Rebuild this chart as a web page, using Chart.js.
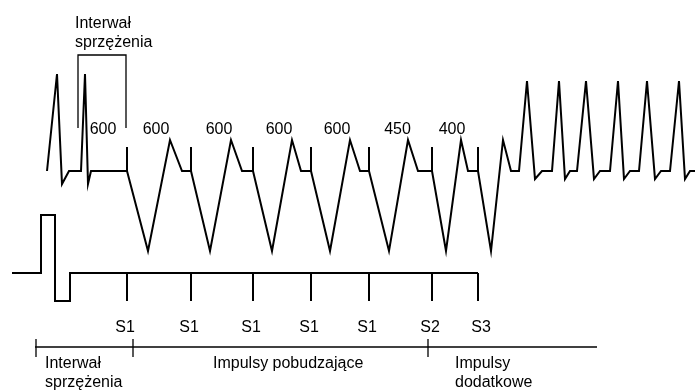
<!DOCTYPE html>
<html>
<head>
<meta charset="utf-8">
<script src="https://cdn.jsdelivr.net/npm/chart.js@4.4.1/dist/chart.umd.min.js"></script>
<style>
  html, body { margin: 0; padding: 0; background: #fff; }
  #wrap { width: 695px; height: 390px; position: relative; }
</style>
</head>
<body>
<div id="wrap"><canvas id="grafico"></canvas></div>
<script>
// ECG trace (time units, amplitude relative to baseline)
var ecgTime = [47, 57, 62, 69, 81, 85, 88, 91, 127, 148, 170, 182, 191, 210, 231, 242, 253, 272, 292, 301,
    311, 330, 350, 360, 369, 389, 408, 418, 432, 446, 461, 468, 478, 491, 503, 511, 519, 527, 535, 542,
    552, 559, 565, 570, 577, 586, 594, 600, 610, 618, 624, 630, 639, 647, 655, 661, 670, 679, 685, 690, 695];
var ecgAmp = [0, 97, -13, 0, 0, 97, -13, 0, 0, -80, 31, 0, 0, -80, 31, 0, 0, -80, 31, 0,
    0, -80, 31, 0, 0, -80, 31, 0, 0, -80, 31, 0, 0, -80, 31, 0, 0, 90, -8, 0,
    0, 90, -8, 0, 0, 90, -8, 0, 0, 90, -8, 0, 0, 90, -8, 0, 0, 90, -8, 0, 0];

// stimuli
var stimTimes = [127, 191, 253, 311, 369, 432, 478];
var stimNames = ['S1', 'S1', 'S1', 'S1', 'S1', 'S2', 'S3'];
var intervalLabels = ['600', '600', '600', '600', '600', '450', '400'];
var lastIntrinsicBeat = 85;
var spikeAmp = 24;

// stimulation channel
var stimChanTime = [12, 41, 41, 55, 55, 70, 70, 478];
var stimChanAmp = [0, 0, 58, 58, -28, -28, 0, 0];
var stimTickAmp = -28;

// phases of the protocol
var phaseBreaks = [36, 133, 428];
var phaseEnd = 597;
var phaseNames = [['Interwał', 'sprzężenia'], ['Impulsy pobudzające'], ['Impulsy', 'dodatkowe']];

// vertical offsets of each row
var OFF_ECG = 0, OFF_STIM = -102, OFF_PHASE = -176;

function pts(xs, ys, off) {
    return xs.map(function (x, i) { return { x: x, y: ys[i] + off }; });
}

function vSegments(xs, y0, y1) {
    var out = [];
    xs.forEach(function (x) {
        out.push({ x: x, y: y0 }, { x: x, y: y1 }, { x: x, y: null });
    });
    return out;
}

var FONT = '16px "Liberation Sans", Arial, sans-serif';

var textos = [];
// interval values above the ECG
stimTimes.forEach(function (t, i) {
    var prev = i === 0 ? lastIntrinsicBeat : stimTimes[i - 1];
    textos.push({ t: intervalLabels[i], x: (prev + t) / 2 - 3, y: 37, align: 'center' });
});
// stimulus names
stimTimes.forEach(function (t, i) {
    textos.push({ t: stimNames[i], x: t - 2 + (i === stimTimes.length - 1 ? 5 : 0), y: OFF_PHASE + 15, align: 'center' });
});
// coupling bracket caption
textos.push({ t: 'Interwał', x: 75, y: 143, align: 'left' });
textos.push({ t: 'sprzężenia', x: 75, y: 124, align: 'left' });
// phase captions
var phaseX = [45, 213, 455];
phaseNames.forEach(function (lines, i) {
    lines.forEach(function (l, j) {
        textos.push({ t: l, x: phaseX[i], y: OFF_PHASE - 21 - 19 * j, align: 'left' });
    });
});

var textPlugin = {
    id: 'textos',
    afterDatasetsDraw: function (chart) {
        var ctx = chart.ctx, sx = chart.scales.x, sy = chart.scales.y;
        ctx.save();
        ctx.font = FONT;
        ctx.fillStyle = '#000';
        ctx.textBaseline = 'alphabetic';
        textos.forEach(function (o) {
            ctx.textAlign = o.align;
            ctx.fillText(o.t, sx.getPixelForValue(o.x), sy.getPixelForValue(o.y));
        });
        ctx.restore();
    }
};

var linea = { showLine: true, pointRadius: 0, borderColor: '#000', fill: false, spanGaps: false, tension: 0 };

var ctx = document.getElementById('grafico').getContext('2d');
var chart = new Chart(ctx, {
    type: 'scatter',
    data: {
        datasets: [
            Object.assign({ data: pts(ecgTime, ecgAmp, OFF_ECG), borderWidth: 2 }, linea),
            Object.assign({ data: vSegments(stimTimes, OFF_ECG, OFF_ECG + spikeAmp), borderWidth: 2 }, linea),
            Object.assign({ data: pts(stimChanTime, stimChanAmp, OFF_STIM), borderWidth: 2 }, linea),
            Object.assign({ data: vSegments(stimTimes, OFF_STIM, OFF_STIM + stimTickAmp), borderWidth: 2 }, linea),
            Object.assign({ data: [{ x: phaseBreaks[0] - 1, y: OFF_PHASE }, { x: phaseEnd, y: OFF_PHASE }], borderWidth: 1.3 }, linea),
            Object.assign({ data: vSegments(phaseBreaks, OFF_PHASE + 8, OFF_PHASE - 10), borderWidth: 1.3 }, linea),
            // coupling interval bracket
            Object.assign({ data: [{ x: 78, y: 43 }, { x: 78, y: 116 }, { x: 126, y: 116 }, { x: 126, y: 43 }], borderWidth: 1.3 }, linea)
        ]
    },
    options: {
        animation: false,
        responsive: true,
        maintainAspectRatio: false,
        devicePixelRatio: 1,
        layout: { padding: 0 },
        plugins: { legend: { display: false }, tooltip: { enabled: false } },
        scales: {
            x: { type: 'linear', min: 0, max: 695, display: false },
            y: { type: 'linear', min: -219, max: 171, display: false }
        }
    },
    plugins: [textPlugin]
});
</script>
</body>
</html>
